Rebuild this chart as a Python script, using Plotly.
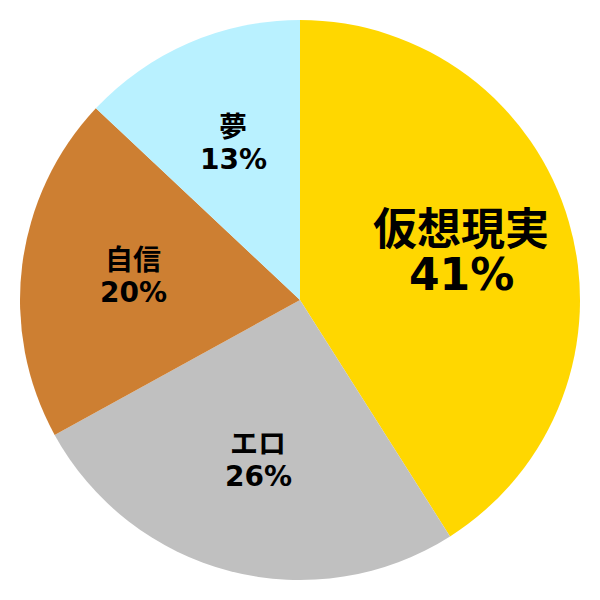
import math
import plotly.graph_objects as go

labels = ['仮想現実', 'エロ', '自信', '夢']
values = [41, 26, 20, 13]
colors = ['#FFD700', '#C0C0C0', '#CD7F32', '#B9F1FF']
text_sizes = [44, 28, 28, 28]
line_gaps = [45, 32, 32, 32]

fig = go.Figure(go.Pie(
    labels=labels,
    values=values,
    sort=False,
    direction='clockwise',
    rotation=0,
    marker=dict(colors=colors, line=dict(width=0)),
    textinfo='none',
    showlegend=False,
    hoverinfo='label+percent',
))

# labels sit at 60% of the radius along each slice's middle angle
total = sum(values)
start = 0
for lab, val, size, gap in zip(labels, values, text_sizes, line_gaps):
    mid = (start + val / 2) / total * 2 * math.pi
    start += val
    x = 0.5 + 0.3 * math.sin(mid)
    y = 0.5 + 0.3 * math.cos(mid)
    font = dict(size=size, color='black', family='DejaVu Sans, Noto Sans CJK JP')
    for txt, shift in [(lab, gap / 2), (f'{round(val / total * 100)}%', -gap / 2)]:
        fig.add_annotation(
            x=x, y=y, xref='paper', yref='paper',
            text=f'<b>{txt}</b>', showarrow=False,
            xanchor='center', yanchor='middle', yshift=shift + 2,
            height=gap - 1, valign='middle', borderpad=0,
            font=font,
        )

fig.update_layout(
    width=600,
    height=600,
    margin=dict(t=12, b=28, l=12, r=28),
    paper_bgcolor='white',
    plot_bgcolor='white',
)

fig.write_html("out.html")
